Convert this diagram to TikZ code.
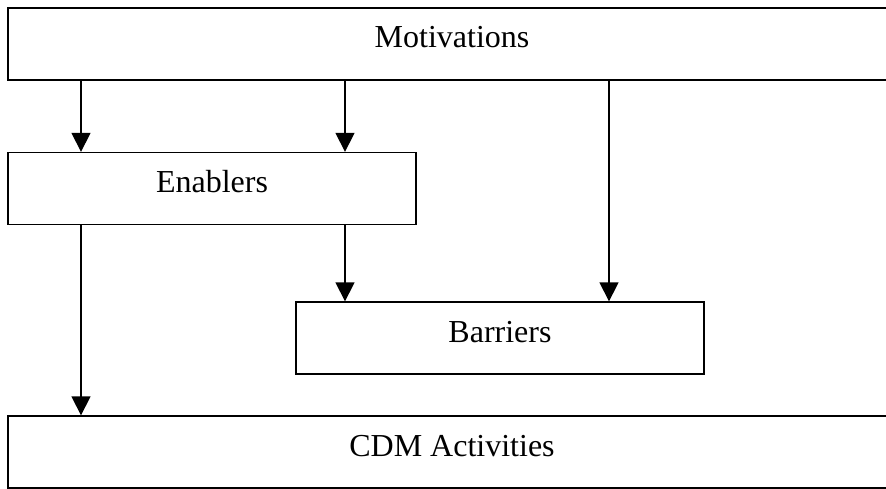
\documentclass[tikz,border=0pt]{standalone}
\usepackage{fontspec}
\setmainfont{Liberation Serif}
\usetikzlibrary{arrows.meta}

\begin{document}
\begin{tikzpicture}[x=1pt, y=-1pt, line width=1.3pt,
    block/.style={draw, inner xsep=0pt, inner ysep=9pt, text height=31pt, text depth=23pt,
      font=\fontsize{32}{38}\selectfont},
    arr/.style={-{Triangle[width=19pt, length=19pt]}}]

  \clip (0, 0) rectangle (886, 489);

  \node[block, minimum width=888pt] (mot) at (452, 44) {Motivations};
  \node[block, minimum width=408pt] (ena) at (212, 188.5) {Enablers};
  \node[block, minimum width=408pt] (bar) at (500, 338) {Barriers};
  \node[block, minimum width=888pt] (cdm) at (452, 452) {CDM Activities};

  \coordinate (colA) at (81, 0);
  \coordinate (colB) at (345, 0);
  \coordinate (colC) at (609, 0);

  \draw[arr] (mot.south -| colA) -- (ena.north -| colA);
  \draw[arr] (mot.south -| colB) -- (ena.north -| colB);
  \draw[arr] (mot.south -| colC) -- (bar.north -| colC);
  \draw[arr] (ena.south -| colB) -- (bar.north -| colB);
  \draw[arr] (ena.south -| colA) -- (cdm.north -| colA);

\end{tikzpicture}
\end{document}
